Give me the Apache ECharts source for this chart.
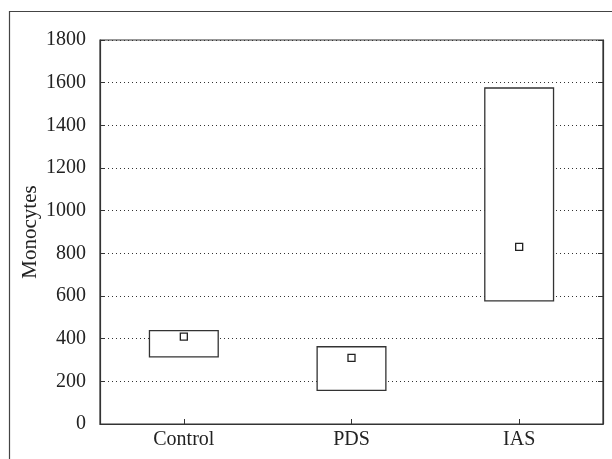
<!DOCTYPE html>
<html>
<head>
<meta charset="utf-8">
<script src="https://cdn.jsdelivr.net/npm/echarts@6/dist/echarts.min.js"></script>
<style>html,body{margin:0;padding:0;background:#fff;}#c{width:612px;height:459px;}</style>
</head>
<body>
<div id="c"></div>
<script>
const categories = ['Control', 'PDS', 'IAS'];
const lowValues = [315, 158, 577];
const highValues = [438, 362, 1575];
const meanValues = [410, 310, 830];
const yMin = 0, yMax = 1800, yInterval = 200;
const yName = 'Monocytes';

const chart = echarts.init(document.getElementById('c'));
const font = 'Liberation Serif';
const ink = '#222';
chart.setOption({
  animation: false,
  backgroundColor: '#fff',
  graphic: [{
    type: 'rect', left: 7, top: 9, shape: { width: 640, height: 480 },
    style: { fill: 'none', stroke: '#444', lineWidth: 1.2 }, silent: true, z: -1
  }],
  grid: { left: 100, right: 9, top: 40, bottom: 35, show: true, borderColor: '#333', borderWidth: 1.2, backgroundColor: 'transparent' },
  xAxis: {
    type: 'category', data: categories,
    axisLine: { show: true, lineStyle: { color: '#333', width: 1.2 } },
    axisTick: { show: true, inside: true, alignWithLabel: true, length: 5, lineStyle: { color: '#333' } },
    axisLabel: { color: ink, fontFamily: font, fontSize: 20, margin: 6 },
    splitLine: { show: false }
  },
  yAxis: [{
    type: 'value', min: yMin, max: yMax, interval: yInterval,
    name: yName, nameLocation: 'middle', nameGap: 59, nameRotate: 90, nameMoveOverlap: false,
    nameTextStyle: { color: ink, fontFamily: font, fontSize: 21 },
    axisLine: { show: true, lineStyle: { color: '#333', width: 1.2 } },
    axisTick: { show: true, inside: true, length: 5, lineStyle: { color: '#333' } },
    axisLabel: { color: ink, fontFamily: font, fontSize: 20, margin: 14, formatter: v => String(v) },
    splitLine: { show: true, lineStyle: { type: [1, 3], color: '#333', width: 1 } }
  }, {
    type: 'value', min: yMin, max: yMax, interval: yInterval, position: 'right',
    axisLine: { show: true, lineStyle: { color: '#333', width: 1.2 } },
    axisTick: { show: true, inside: true, length: 5, lineStyle: { color: '#333' } },
    axisLabel: { show: false },
    splitLine: { show: false }
  }],
  series: [{
    type: 'custom',
    data: categories.map((c, i) => [i, lowValues[i], highValues[i]]),
    encode: { x: 0, y: [1, 2] },
    renderItem: function (params, api) {
      const x = api.value(0);
      const p1 = api.coord([x, api.value(2)]);
      const p2 = api.coord([x, api.value(1)]);
      const w = api.size([1, 0])[0] * 0.41;
      return {
        type: 'rect',
        shape: { x: p1[0] - w / 2, y: p1[1], width: w, height: p2[1] - p1[1] },
        style: { fill: '#fff', stroke: '#333', lineWidth: 1.3 }
      };
    },
    z: 2
  }, {
    type: 'scatter',
    data: meanValues,
    symbol: 'rect', symbolSize: 7,
    itemStyle: { color: '#fff', borderColor: '#222', borderWidth: 1.3, opacity: 1 },
    z: 3
  }]
});
</script>
</body>
</html>
